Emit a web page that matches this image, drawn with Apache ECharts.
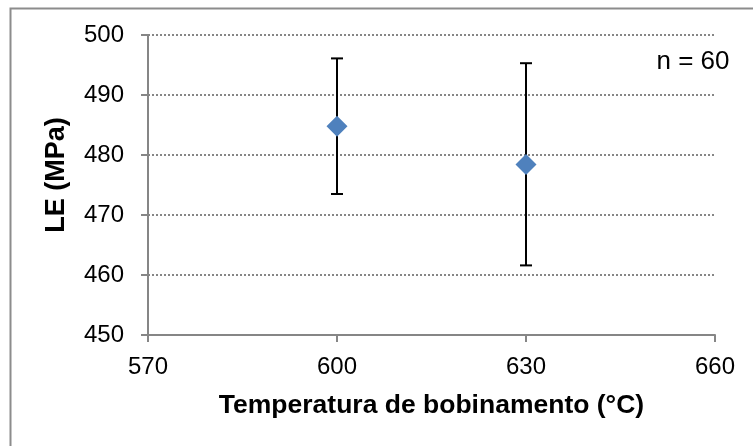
<!DOCTYPE html>
<html>
<head>
<meta charset="utf-8">
<script src="https://cdn.jsdelivr.net/npm/echarts@6/dist/echarts.min.js"></script>
<style>
  html, body { margin: 0; padding: 0; background: #fff; }
  #chart { width: 753px; height: 446px; }
</style>
</head>
<body>
<div id="chart"></div>
<script>
// temperatura de bobinamento (°C) e LE (MPa)
var temps = [600, 630];
var means = [484.8, 478.4];
var lower = [473.5, 461.6];
var upper = [496.1, 495.3];
var xTicks = [570, 600, 630, 660];
var yTicks = [450, 460, 470, 480, 490, 500];

var font = "Liberation Sans, Arial, sans-serif";
var axisGray = "#868686";

var points = temps.map(function (t, i) { return [t, means[i]]; });
var bars = temps.map(function (t, i) { return [t, lower[i], upper[i]]; });

var myChart = echarts.init(document.getElementById("chart"));

var option = {
  backgroundColor: "#fff",
  animation: false,
  grid: { left: 148, right: 38, top: 35, bottom: 111 },
  xAxis: {
    type: "value",
    min: xTicks[0],
    max: xTicks[xTicks.length - 1],
    interval: 30,
    name: "Temperatura de bobinamento (°C)",
    nameLocation: "middle",
    nameGap: 57,
    nameTextStyle: { fontFamily: font, fontSize: 26.5, fontWeight: "bold", color: "#000" },
    axisLine: { lineStyle: { color: axisGray, width: 2 } },
    axisTick: { show: true, length: 7, lineStyle: { color: axisGray, width: 2 } },
    axisLabel: { fontFamily: font, fontSize: 24, color: "#000", margin: 20 },
    splitLine: { show: false }
  },
  yAxis: {
    type: "value",
    min: yTicks[0],
    max: yTicks[yTicks.length - 1],
    interval: 10,
    axisLine: { show: true, lineStyle: { color: axisGray, width: 2 } },
    axisTick: { show: true, length: 7, lineStyle: { color: axisGray, width: 2 } },
    axisLabel: { fontFamily: font, fontSize: 24, color: "#000", margin: 24 },
    splitLine: { show: true, lineStyle: { color: axisGray, width: 2, type: [2, 2] } }
  },
  graphic: [
    {
      // borda externa
      type: "rect",
      left: 8, top: 6,
      shape: { width: 800, height: 500 },
      style: { fill: "none", stroke: "#8c8c8c", lineWidth: 2 },
      silent: true
    },
    {
      type: "text",
      x: 57, y: 175,
      rotation: Math.PI / 2,
      style: {
        text: "LE (MPa)",
        font: "bold 27px " + font,
        fill: "#000",
        align: "center",
        verticalAlign: "middle"
      }
    },
    {
      type: "text",
      x: 693, y: 62,
      style: {
        text: "n = 60",
        font: "26px " + font,
        fill: "#000",
        align: "center",
        verticalAlign: "middle"
      }
    }
  ],
  series: [
    {
      // barras de erro
      type: "custom",
      data: bars,
      z: 2,
      renderItem: function (params, api) {
        var x = api.value(0);
        var lo = api.coord([x, api.value(1)]);
        var hi = api.coord([x, api.value(2)]);
        var w = 6;
        var st = { stroke: "#000", lineWidth: 2 };
        return {
          type: "group",
          children: [
            { type: "line", shape: { x1: lo[0], y1: lo[1], x2: hi[0], y2: hi[1] }, style: st },
            { type: "line", shape: { x1: hi[0] - w, y1: hi[1], x2: hi[0] + w, y2: hi[1] }, style: st },
            { type: "line", shape: { x1: lo[0] - w, y1: lo[1], x2: lo[0] + w, y2: lo[1] }, style: st }
          ]
        };
      }
    },
    {
      type: "scatter",
      data: points,
      symbol: "diamond",
      symbolSize: [21, 21],
      z: 3,
      itemStyle: { color: "#4F81BD", opacity: 1 }
    }
  ]
};
myChart.setOption(option);
</script>
</body>
</html>
